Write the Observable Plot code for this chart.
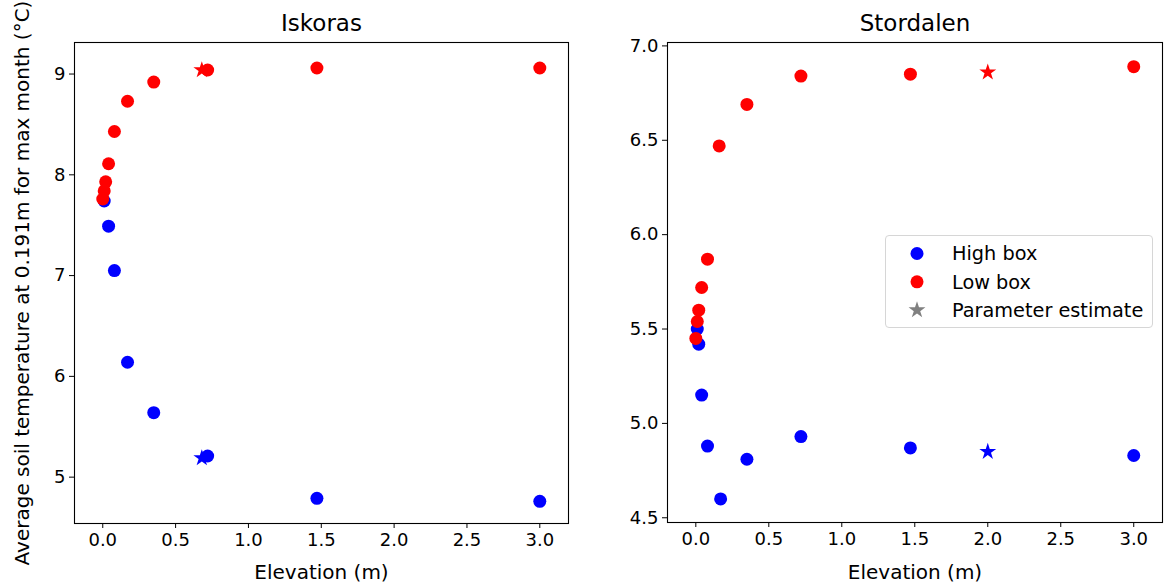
<!DOCTYPE html>
<html><head><meta charset="utf-8">
<script src="https://cdn.jsdelivr.net/npm/d3@7"></script>
<script src="https://cdn.jsdelivr.net/npm/@observablehq/plot@0.6"></script>
<style>
html,body{margin:0;padding:0;background:#fff;}
#wrap{position:relative;width:1173px;height:585px;overflow:hidden;font-family:"DejaVu Sans",sans-serif;}
#left{position:absolute;left:0;top:0;}
#right{position:absolute;left:600px;top:0;}
#legend{position:absolute;left:885px;top:235px;width:268px;height:93px;box-sizing:border-box;border:1px solid #d6d6d6;border-radius:4px;background:rgba(255,255,255,0.85);}
svg [aria-label="y-axis label"] text, svg [aria-label="x-axis label"] text {font-size:20px;}
</style></head><body>
<div id="wrap"><div id="left"></div><div id="right"></div><div id="legend"></div></div>
<script>
// ---- data ----
const xTicks = [0.0, 0.5, 1.0, 1.5, 2.0, 2.5, 3.0];
const xLabel = "Elevation (m)";
const yLabel = "Average soil temperature at 0.191m for max month (°C)";
const titles = ["Iskoras", "Stordalen"];

const iskorasHighX = [0.01, 0.04, 0.08, 0.17, 0.35, 0.72, 1.47, 3.0];
const iskorasHighY = [7.74, 7.49, 7.05, 6.14, 5.64, 5.21, 4.79, 4.76];
const iskorasLowX  = [0.0, 0.01, 0.02, 0.04, 0.08, 0.17, 0.35, 0.72, 1.47, 3.0];
const iskorasLowY  = [7.76, 7.84, 7.93, 8.11, 8.43, 8.73, 8.92, 9.04, 9.06, 9.06];
const iskorasEstX  = 0.68;
const iskorasEstHighY = 5.19;
const iskorasEstLowY  = 9.04;
const iskorasYTicks = [5, 6, 7, 8, 9];

const stordalenHighX = [0.01, 0.02, 0.04, 0.08, 0.17, 0.35, 0.72, 1.47, 3.0];
const stordalenHighY = [5.50, 5.42, 5.15, 4.88, 4.60, 4.81, 4.93, 4.87, 4.83];
const stordalenLowX  = [0.0, 0.01, 0.02, 0.04, 0.08, 0.16, 0.35, 0.72, 1.47, 3.0];
const stordalenLowY  = [5.45, 5.54, 5.60, 5.72, 5.87, 6.47, 6.69, 6.84, 6.85, 6.89];
const stordalenEstX  = 2.0;
const stordalenEstHighY = 4.85;
const stordalenEstLowY  = 6.86;
const stordalenYTicks = [4.5, 5.0, 5.5, 6.0, 6.5, 7.0];

const legendLabels = ["High box", "Low box", "Parameter estimate"];

// ---- styling ----
const BLUE = "#0000ff", RED = "#ff0000", GREY = "#808080";
const FONT = "DejaVu Sans";
const xDomain = [-0.194, 3.197];

const zip = (xs, ys) => xs.map((x, i) => ({x, y: ys[i]}));

function panel({title, high, low, estHigh, estLow, yDomain, yTicks, yFormat, width, marginLeft, marginRight, marginBottom, ylabel}) {
  return Plot.plot({
    width, height: 585, marginLeft, marginRight, marginTop: 42, marginBottom,
    style: {fontFamily: FONT, fontSize: "18px", color: "#000", background: "transparent", overflow: "visible"},
    x: {domain: xDomain},
    y: {domain: yDomain},
    marks: [
      Plot.axisX({ticks: xTicks, tickFormat: ".1f", tickSize: 5, tickPadding: 5, label: xLabel, labelAnchor: "center", labelArrow: "none", labelOffset: marginBottom - 7}),
      Plot.axisY({ticks: yTicks, tickFormat: yFormat, tickSize: 5, tickPadding: 4, label: ylabel, labelAnchor: "center", labelArrow: "none", labelOffset: 60}),
      Plot.dot(high, {x: "x", y: "y", r: 6.5, fill: BLUE}),
      Plot.dot(low, {x: "x", y: "y", r: 6.5, fill: RED}),
      Plot.dot(estHigh, {x: "x", y: "y", symbol: "star", r: 5.3, fill: BLUE}),
      Plot.dot(estLow, {x: "x", y: "y", symbol: "star", r: 5.3, fill: RED}),
      Plot.frame({stroke: "#000", strokeWidth: 1.1}),
      Plot.text([title], {text: d => d, frameAnchor: "top", lineAnchor: "bottom", dy: -12, fontSize: 23, fill: "#000"})
    ]
  });
}

document.getElementById("left").appendChild(panel({
  title: titles[0],
  high: zip(iskorasHighX, iskorasHighY),
  low: zip(iskorasLowX, iskorasLowY),
  estHigh: [{x: iskorasEstX, y: iskorasEstHighY}],
  estLow: [{x: iskorasEstX, y: iskorasEstLowY}],
  yDomain: [4.54, 9.313], yTicks: iskorasYTicks, yFormat: "d",
  width: 600, marginLeft: 74, marginRight: 32, marginBottom: 62, ylabel: yLabel
}));

document.getElementById("right").appendChild(panel({
  title: titles[1],
  high: zip(stordalenHighX, stordalenHighY),
  low: zip(stordalenLowX, stordalenLowY),
  estHigh: [{x: stordalenEstX, y: stordalenEstHighY}],
  estLow: [{x: stordalenEstX, y: stordalenEstLowY}],
  yDomain: [4.475, 7.018], yTicks: stordalenYTicks, yFormat: ".1f",
  width: 573, marginLeft: 67, marginRight: 11, marginBottom: 63, ylabel: null
}));

// ---- legend ----
const lg = d3.select("#legend").append("svg").attr("width", 266).attr("height", 91)
  .style("font-family", FONT).style("font-size", "19.3px");
const colors = [BLUE, RED, GREY];
legendLabels.forEach((lab, i) => {
  const cy = 17.5 + i * 28.3;
  if (i < 2) {
    lg.append("circle").attr("cx", 31).attr("cy", cy).attr("r", 6.5).attr("fill", colors[i]);
  } else {
    lg.append("path").attr("transform", `translate(31,${cy})`)
      .attr("d", d3.symbol(d3.symbolStar, Math.PI * 5.3 * 5.3)()).attr("fill", colors[i]);
  }
  lg.append("text").attr("x", 66).attr("y", cy).attr("dy", "0.35em").attr("fill", "#000").text(lab);
});
</script>
</body></html>
